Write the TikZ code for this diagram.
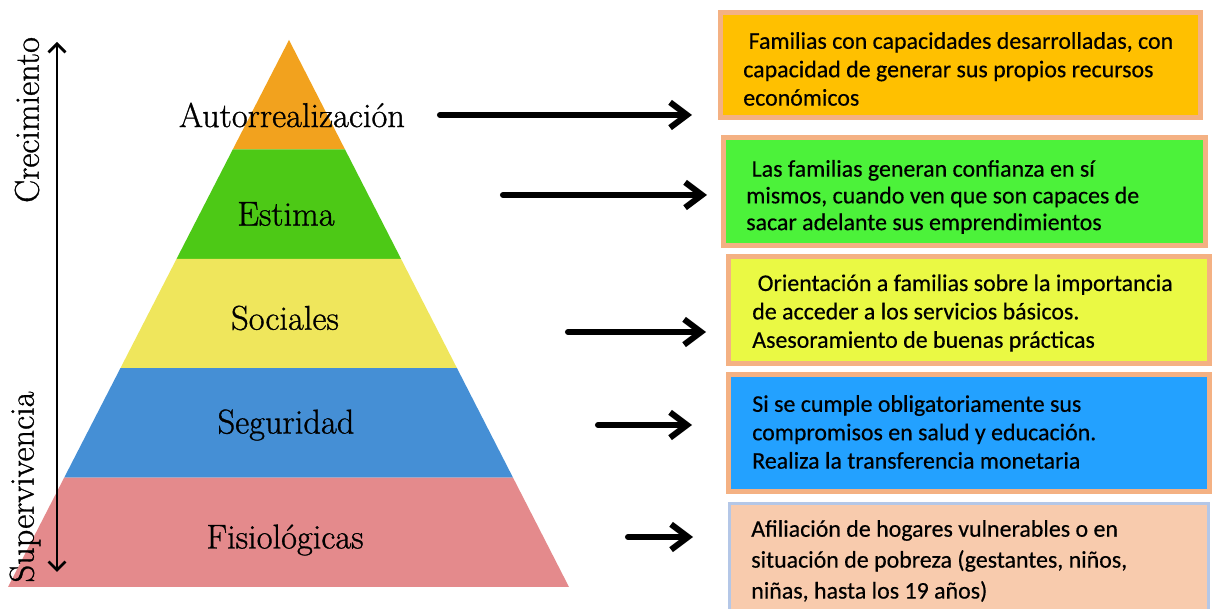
\documentclass[tikz,border=0pt]{standalone}
\usepackage{fontspec}
\newfontfamily\calibri{Carlito}[FakeBold=0.4]
\newfontfamily\libro{Latin Modern Roman}[FakeBold=0.9]
\usetikzlibrary{arrows.meta}
\usetikzlibrary{calc}
\definecolor{naranja}{HTML}{F2A21E}
\definecolor{verde}{HTML}{4DC916}
\definecolor{amarillo}{HTML}{EFE65C}
\definecolor{azul}{HTML}{458FD5}
\definecolor{rosa}{HTML}{E48A8C}
\definecolor{oro}{HTML}{FFC000}
\definecolor{verdeclaro}{HTML}{4CF23A}
\definecolor{limon}{HTML}{EAF944}
\definecolor{celeste}{HTML}{23A1FF}
\definecolor{durazno}{HTML}{F8CBAD}
\definecolor{salmon}{HTML}{F4B183}
\definecolor{lila}{HTML}{B4C7E7}
\tikzstyle{nivel}=[font=\libro\fontsize{24.5}{28}\selectfont, inner sep=0pt]
\tikzstyle{caja}=[line width=3.55pt, inner sep=0pt]
\tikzstyle{texto}=[font=\calibri\fontsize{17}{20.2}\selectfont, align=left, anchor=west, inner sep=0pt]
\tikzstyle{flecha}=[-{Straight Barb[length=12pt,width=18pt]}, line width=4.3pt, line cap=round, line join=round]
\tikzstyle{eje}=[{Straight Barb[length=6pt,width=12pt]}-{Straight Barb[length=6pt,width=12pt]}, line width=1.9pt]

\begin{document}
\begin{tikzpicture}[x=0.025cm, y=-0.025cm]

  \useasboundingbox[fill=white] (0,0) rectangle (1213,609);

  % piramide
  \coordinate (cima) at (289,40);
  \coordinate (baseI) at (8,587);
  \coordinate (baseD) at (569,587);
  \foreach \a/\b/\tono in {0/0.2/naranja, 0.2/0.4/verde, 0.4/0.6/amarillo, 0.6/0.8/azul, 0.8/1/rosa}
     \fill[\tono] ($(cima)!\a!(baseI)$) -- ($(cima)!\b!(baseI)$) -- ($(cima)!\b!(baseD)$) -- ($(cima)!\a!(baseD)$) -- cycle;

  \foreach \pos/\name/\etiqueta in {{(292,115)/autorrealizacion/Autorrealización}, {(286,214)/estima/Estima}, {(285,318)/sociales/Sociales}, {(286,425)/seguridad/Seguridad}, {(285,540)/fisiologicas/Fisiológicas}}
     \node[nivel] (\name) at \pos {\etiqueta};

  % eje
  \coordinate (arriba) at (57,42);
  \coordinate (abajo) at (57,572);
  \draw[eje] (arriba) -- (abajo);
  \node[nivel, rotate=90] (crecimiento) at (27,120) {Crecimiento};
  \node[nivel, rotate=90] (supervivencia) at (25,487) {Supervivencia};

  % cajas
  \foreach \pos/\name/\relleno/\borde/\w/\h in {{(960.5,65)/caja1/oro/salmon/12cm/2.625cm}, {(964.5,191.5)/caja2/verdeclaro/salmon/12.05cm/2.7cm}, {(969,310)/caja3/limon/salmon/12.025cm/2.675cm}, {(969,433)/caja4/celeste/salmon/12.025cm/2.925cm}}
     \node[caja, fill=\relleno, draw=\borde, minimum width=\w, minimum height=\h] (\name) at \pos {};
  \node[caja, fill=durazno, draw=lila, line width=2.1pt, minimum width=11.975cm, minimum height=3.025cm] (caja5) at (969,564) {};

  \node[texto] (texto1) at (743,69) {\ Familias con capacidades desarrolladas, con\\capacidad de generar sus propios recursos\\económicos};
  \node[texto, font=\calibri\fontsize{17}{19}\selectfont] (texto2) at (746,197) {\ Las familias generan confianza en sí\\mismos, cuando ven que son capaces de\\sacar adelante sus emprendimientos};
  \node[texto] (texto3) at (752,313) {\ Orientación a familias sobre la importancia\\de acceder a los servicios básicos.\\Asesoramiento de buenas prácticas};
  \node[texto] (texto4) at (752,432) {Si se cumple obligatoriamente sus\\compromisos en salud y educación.\\Realiza la transferencia monetaria};
  \node[texto, font=\calibri\fontsize{17}{22}\selectfont] (texto5) at (751,561) {Afiliación de hogares vulnerables o en\\situación de pobreza (gestantes, niños,\\niñas, hasta los 19 años)};

  % flechas
  \foreach \i/\y/\xa/\xb in {1/115/440/692, 2/195/503/707, 3/332/568/706, 4/425/598/692, 5/537/628/693}{
     \coordinate (ini\i) at (\xa,\y);
     \coordinate (fin\i) at (\xb,\y);
     \draw[flecha] (ini\i) -- (fin\i);
  }

\end{tikzpicture}
\end{document}
